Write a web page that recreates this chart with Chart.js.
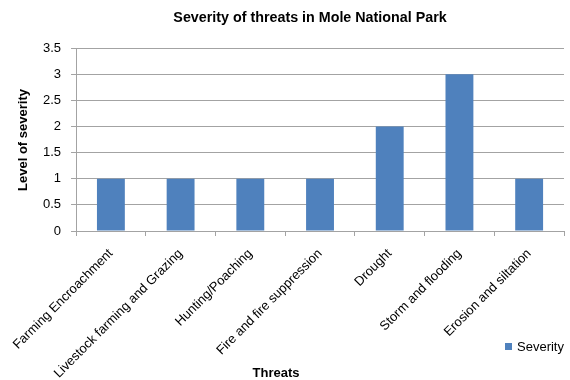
<!DOCTYPE html>
<html>
<head>
<meta charset="utf-8">
<script src="https://cdn.jsdelivr.net/npm/chart.js@4/dist/chart.umd.min.js"></script>
<style>
  html, body { margin: 0; padding: 0; background: #fff; }
  #wrap { width: 570px; height: 380px; position: relative; }
</style>
</head>
<body>
<div id="wrap"><canvas id="c" width="570" height="380"></canvas></div>
<script>
// Threat categories and their severity scores
const threats = [
  'Farming Encroachment',
  'Livestock farming and Grazing',
  'Hunting/Poaching',
  'Fire and fire suppression',
  'Drought',
  'Storm and flooding',
  'Erosion and siltation'
];
const severity = [1, 1, 1, 1, 2, 3, 1];
const seriesName = 'Severity';
const chartTitle = 'Severity of threats in Mole National Park';
const xTitle = 'Threats';
const yTitle = 'Level of severity';
const yMin = 0, yMax = 3.5, yStep = 0.5;

const FONT = '"Liberation Sans", Arial, sans-serif';
const BAR = '#4F81BD';
const GRID = '#a3a3a3';

Chart.defaults.font.family = FONT;
Chart.defaults.color = '#000';

// Titles and the legend box are painted in fixed spots around the plot
const decorations = {
  id: 'decorations',
  afterDraw(chart) {
    const ctx = chart.ctx;
    ctx.save();
    ctx.fillStyle = '#000';
    ctx.textAlign = 'center';
    ctx.textBaseline = 'middle';

    ctx.font = 'bold 14.3px ' + FONT;
    ctx.fillText(chartTitle, 310, 18);

    ctx.font = 'bold 13px ' + FONT;
    ctx.fillText(xTitle, 276, 373);

    ctx.save();
    ctx.translate(23, 140);
    ctx.rotate(-Math.PI / 2);
    ctx.fillText(yTitle, 0, 0);
    ctx.restore();

    const ds = chart.data.datasets[0];
    ctx.fillStyle = ds.backgroundColor;
    ctx.fillRect(505, 343, 7, 7);
    ctx.fillStyle = '#000';
    ctx.font = '13px ' + FONT;
    ctx.textAlign = 'left';
    ctx.fillText(ds.label, 517, 347);
    ctx.restore();
  }
};

new Chart(document.getElementById('c'), {
  type: 'bar',
  data: {
    labels: threats,
    datasets: [{
      label: seriesName,
      data: severity,
      backgroundColor: BAR,
      borderWidth: 0,
      categoryPercentage: 1.0,
      barPercentage: 0.4
    }]
  },
  options: {
    responsive: false,
    animation: false,
    layout: { padding: { top: 48, right: 6, left: 0, bottom: 0 } },
    plugins: {
      legend: { display: false },
      title: { display: false },
      tooltip: { enabled: false }
    },
    scales: {
      x: {
        offset: true,
        grid: {
          offset: true,
          drawOnChartArea: false,
          drawTicks: true,
          tickLength: 5,
          color: GRID
        },
        border: { display: true, color: GRID },
        ticks: {
          maxRotation: 45,
          minRotation: 45,
          autoSkip: false,
          padding: 10,
          font: { size: 13 },
          color: '#000'
        },
        afterFit(scale) { scale.height = 149; }
      },
      y: {
        min: yMin,
        max: yMax,
        grid: {
          color: GRID,
          drawTicks: true,
          tickLength: 5
        },
        border: { display: true, color: GRID },
        ticks: {
          stepSize: yStep,
          padding: 10,
          font: { size: 13 },
          color: '#000',
          callback: (v) => String(Number(v))
        },
        afterFit(scale) { scale.width = 75; }
      }
    }
  },
  plugins: [decorations]
});
</script>
</body>
</html>
